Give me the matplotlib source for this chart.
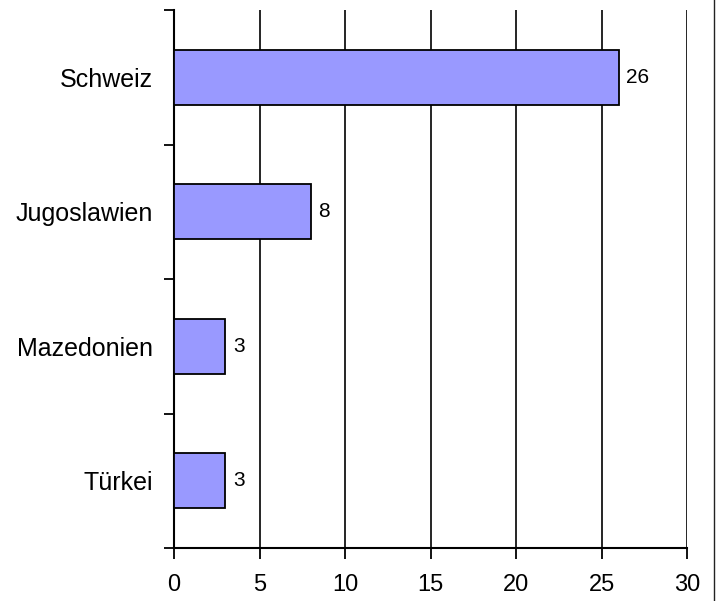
import matplotlib
matplotlib.use("Agg")
import matplotlib.pyplot as plt
from matplotlib.lines import Line2D

categories = ["Schweiz", "Jugoslawien", "Mazedonien", "Türkei"]
values = [26, 8, 3, 3]
xticks = [0, 5, 10, 15, 20, 25, 30]

plt.rcParams['font.family'] = ['Liberation Sans', 'DejaVu Sans']

W, H = 720, 601
fig = plt.figure(figsize=(W / 100, H / 100), dpi=100)
ax = fig.add_axes([174 / W, 1 - 548 / H, (687 - 174) / W, (548 - 10) / H])

n = len(categories)
ypos = list(range(n - 1, -1, -1))
bars = ax.barh(ypos, values, height=0.41, color="#9999FF", edgecolor="black",
               linewidth=1.3, zorder=3)
for b, v in zip(bars, values):
    ax.text(b.get_width() + 0.45, b.get_y() + b.get_height() / 2, str(v),
            va="center", ha="left", fontsize=15, zorder=4)

ax.set_xlim(0, 30)
ax.set_ylim(-0.5, n - 0.5)
ax.set_xticks(xticks)
ax.set_xticklabels([str(t) for t in xticks], fontsize=17)
ax.set_yticks([y - 0.5 for y in range(n + 1)])
ax.set_yticklabels([])
ax.set_yticks(ypos, minor=True)
ax.set_yticklabels(categories, minor=True, fontsize=18)
ax.tick_params(axis='y', which='minor', length=0, pad=15)
ax.tick_params(axis='y', which='major', length=7, width=1.3, direction='out')
ax.tick_params(axis='x', length=8, width=1.3, direction='out', pad=11)

ax.xaxis.grid(True, color="black", linewidth=1.2, zorder=0)
ax.set_axisbelow(True)
for s in ["top", "right"]:
    ax.spines[s].set_visible(False)
for s in ["left", "bottom"]:
    ax.spines[s].set_linewidth(1.5)

fig.add_artist(Line2D([713.5 / W, 713.5 / W], [0, 1], transform=fig.transFigure,
                      color="#222222", linewidth=1.0))

fig.savefig("out.png", dpi=100)
